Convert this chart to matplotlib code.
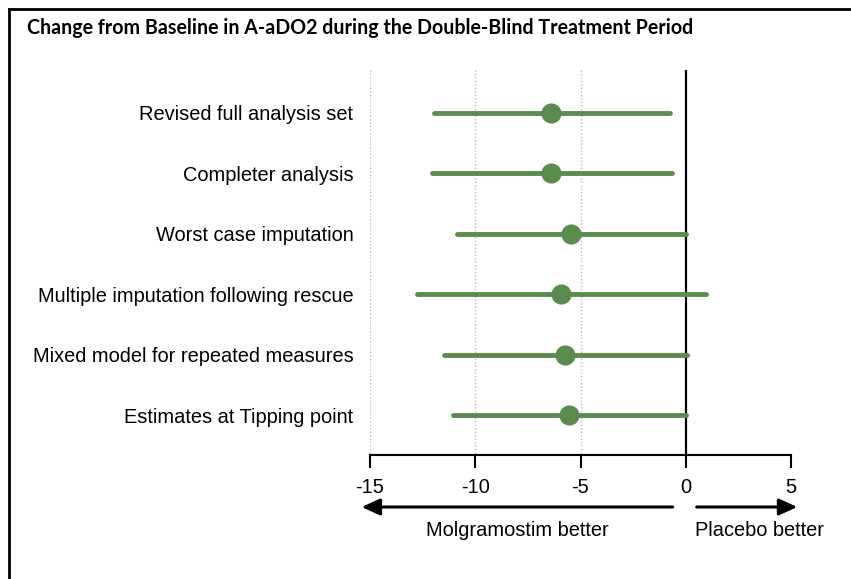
import matplotlib.pyplot as plt
from matplotlib.lines import Line2D

# forest plot of sensitivity analyses
analyses = [
    'Revised full analysis set',
    'Completer analysis',
    'Worst case imputation',
    'Multiple imputation following rescue',
    'Mixed model for repeated measures',
    'Estimates at Tipping point',
]
estimate = [-6.41, -6.41, -5.46, -5.92, -5.74, -5.57]
lower = [-11.96, -12.05, -10.87, -12.78, -11.49, -11.07]
upper = [-0.76, -0.66, 0.0, 0.95, 0.05, 0.03]
xticks = [-15, -10, -5, 0, 5]

W, H = 851, 579
green = '#5b8b4f'
fs = 14.4
plt.rcParams['font.family'] = ['Liberation Sans', 'DejaVu Sans']

fig = plt.figure(figsize=(W / 100, H / 100), dpi=100)

# axes placed so that -15..5 spans the drawn axis line
left_px, right_px = 370, 791
top_px, bot_px = 70, 455
ax = fig.add_axes([left_px / W, 1 - bot_px / H, (right_px - left_px) / W, (bot_px - top_px) / H])
ax.set_xlim(-15, 5)
ax.set_ylim(5.66, -0.71)

rows = list(range(len(analyses)))
for g in [-15, -10, -5]:
    ax.vlines(g, -0.71, 5.66, colors='#b8b8b8', linestyles=(0, (1, 1.5)), lw=1, zorder=1)
ax.vlines(0, -0.71, 5.66, colors='black', lw=1.6, zorder=2)

ax.hlines(rows, lower, upper, colors=green, lw=3.5, capstyle='round', zorder=3)
ax.plot(estimate, rows, 'o', color=green, ms=13.5, zorder=4)

for s in ['left', 'right', 'top']:
    ax.spines[s].set_visible(False)
ax.spines['bottom'].set_linewidth(1.5)
ax.spines['bottom'].set_bounds(-15, 5)
ax.set_xticks(xticks)
ax.set_xticklabels([str(t) for t in xticks], fontsize=fs)
ax.tick_params(axis='x', direction='out', length=9.5, width=1.5, pad=7)
ax.set_yticks(rows)
ax.set_yticklabels(analyses, fontsize=fs)
ax.tick_params(axis='y', length=0, pad=12)

# direction arrows under the axis
arrow_y = 1 - 507 / H
head = dict(arrowstyle='-|>,head_length=1.1,head_width=0.5', color='black', lw=2.2, shrinkA=0, shrinkB=0)
ax.annotate('', xy=(-15.4, arrow_y), xytext=(-0.62, arrow_y),
            xycoords=('data', 'figure fraction'), textcoords=('data', 'figure fraction'),
            arrowprops=head)
ax.annotate('', xy=(5.3, arrow_y), xytext=(0.52, arrow_y),
            xycoords=('data', 'figure fraction'), textcoords=('data', 'figure fraction'),
            arrowprops=head)
ax.annotate('Molgramostim better', xy=(-8.0, 1 - 531 / H), xycoords=('data', 'figure fraction'),
            ha='center', va='center', fontsize=fs)
ax.annotate('Placebo better', xy=(3.5, 1 - 531 / H), xycoords=('data', 'figure fraction'),
            ha='center', va='center', fontsize=fs)

fig.text(27 / W, 1 - 28 / H, 'Change from Baseline in A-aDO2 during the Double-Blind Treatment Period',
         fontsize=14.1, fontweight='bold', family=['Lato', 'DejaVu Sans'], ha='left', va='center')

# frame on the left and top edges
bx, by = 8.5 / W, 1 - 8.5 / H
fig.add_artist(Line2D([bx, bx], [0, by], transform=fig.transFigure, color='black', lw=2))
fig.add_artist(Line2D([bx, 1], [by, by], transform=fig.transFigure, color='black', lw=2))

fig.savefig('out.png', dpi=100)
